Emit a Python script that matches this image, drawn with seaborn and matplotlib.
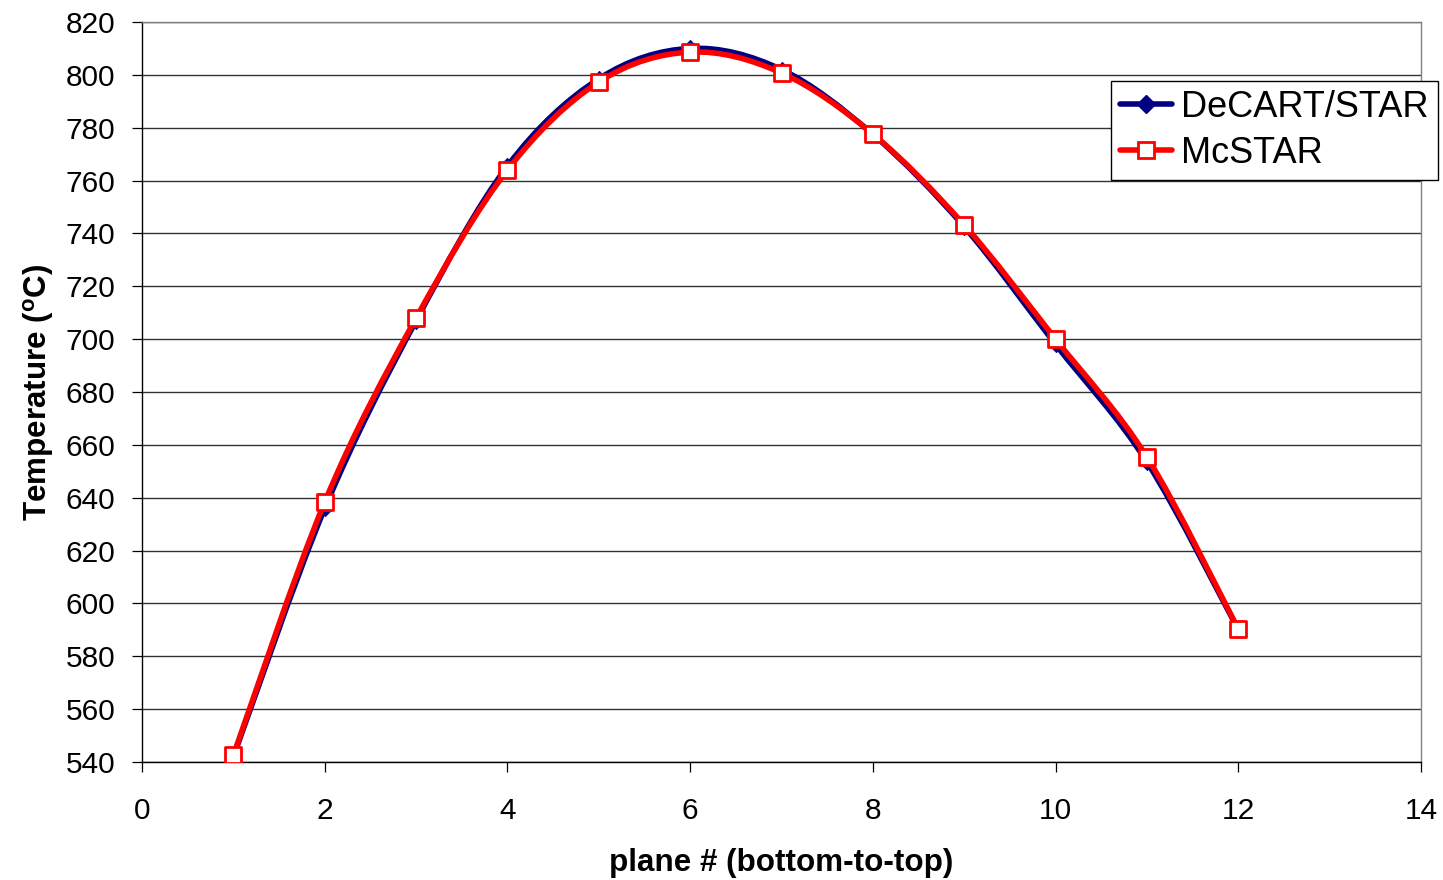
import numpy as np
import pandas as pd
import matplotlib
matplotlib.use("Agg")
import matplotlib.pyplot as plt
from matplotlib.path import Path
from matplotlib.patches import PathPatch
from matplotlib.lines import Line2D
import seaborn as sns

planes = [1, 2, 3, 4, 5, 6, 7, 8, 9, 10, 11, 12]
decart_star = [542.0, 636.0, 707.0, 765.5, 798.5, 810.0, 802.0, 777.5, 742.5, 698.0, 653.5, 590.0]
mcstar = [542.6, 638.4, 708.0, 764.0, 797.3, 808.6, 800.7, 777.6, 743.2, 700.0, 655.4, 590.3]

sns.set_theme(style="white")
plt.rcParams["font.family"] = ["Liberation Sans", "DejaVu Sans"]
plt.rcParams["text.color"] = "black"
plt.rcParams["axes.labelcolor"] = "black"

fig = plt.figure(figsize=(14.43, 8.80), dpi=100)
ax = fig.add_axes([0.0984, 0.134, 0.8864, 0.841])


def smooth_path(xs, ys, t=1.0 / 6.0):
    pts = np.column_stack([xs, ys]).astype(float)
    verts = [pts[0]]
    codes = [Path.MOVETO]
    n = len(pts)
    for i in range(n - 1):
        p0 = pts[i - 1] if i > 0 else pts[i]
        p1 = pts[i]
        p2 = pts[i + 1]
        p3 = pts[i + 2] if i + 2 < n else pts[i + 1]
        c1 = p1 + (p2 - p0) * t
        c2 = p2 - (p3 - p1) * t
        verts += [c1, c2, p2]
        codes += [Path.CURVE4] * 3
    return Path(verts, codes)


blue = "#000080"
red = "#ff0000"

ax.add_patch(PathPatch(smooth_path(planes, decart_star), fill=False, edgecolor=blue, lw=4, zorder=3))
df_b = pd.DataFrame({"plane": planes, "T": decart_star})
sns.scatterplot(data=df_b, x="plane", y="T", ax=ax, marker="D", s=70, color=blue,
                edgecolor=blue, linewidth=0.5, zorder=4)

ax.add_patch(PathPatch(smooth_path(planes, mcstar), fill=False, edgecolor=red, lw=4, zorder=5))
df_r = pd.DataFrame({"plane": planes, "T": mcstar})
sns.scatterplot(data=df_r, x="plane", y="T", ax=ax, marker="s", s=140, color="white",
                edgecolor=red, linewidth=2, zorder=6)

ax.set_xlim(0, 14)
ax.set_ylim(540, 820)
ax.set_xticks(range(0, 15, 2))
ax.set_yticks(range(540, 821, 20))
ax.yaxis.grid(True, color="#333333", lw=1)
ax.xaxis.grid(False)
for side in ["top", "right"]:
    ax.spines[side].set_color("#808080")
for side in ["left", "bottom"]:
    ax.spines[side].set_color("black")
for s in ax.spines.values():
    s.set_linewidth(1.0)
ax.tick_params(axis="both", which="major", direction="out", length=7, width=0.9,
               colors="black", labelsize=21.5, bottom=True, left=True)
ax.tick_params(axis="y", pad=12)
ax.tick_params(axis="x", pad=18)

ax.set_xlabel("plane # (bottom-to-top)", fontsize=22.6, fontweight="bold", labelpad=17)
ax.set_ylabel("Temperature ($\\mathregular{^o}$C)", fontsize=22.6, fontweight="bold", labelpad=7)

handles = [
    Line2D([], [], color=blue, lw=4, marker="D", markersize=9, markerfacecolor=blue),
    Line2D([], [], color=red, lw=4, marker="s", markersize=12, markerfacecolor="white",
           markeredgecolor=red, markeredgewidth=2),
]
leg = fig.legend(handles, ["DeCART/STAR", "McSTAR"], loc="upper left",
                 bbox_to_anchor=(1111 / 1443, 1 - 81 / 880), fontsize=26, frameon=True,
                 fancybox=False, edgecolor="black", framealpha=1, borderpad=0.25,
                 handlelength=1.45, handletextpad=0.25, labelspacing=0.3, borderaxespad=0)
leg.get_frame().set_linewidth(1)
leg.set_zorder(10)

fig.savefig("out.png", dpi=100)
